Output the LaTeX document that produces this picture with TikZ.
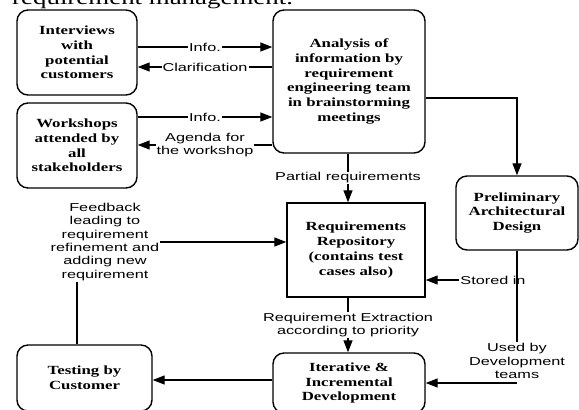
\documentclass[tikz,border=0pt]{standalone}
\usepackage{fontspec}
\usetikzlibrary{arrows.meta}
\newfontfamily\boxfont{Liberation Serif}[FakeStretch=1.35]
\newfontfamily\lblfont{Liberation Sans}[FakeStretch=1.42]
\begin{document}
\begin{tikzpicture}[x=1bp,y=-1bp,
  box/.style={draw,line width=1.4bp,rounded corners=11bp,align=center,inner sep=0pt,
    font=\boxfont\bfseries\fontsize{12.5}{14.8}\selectfont},
  sqbox/.style={box,rounded corners=0pt},
  lbl/.style={align=center,inner sep=1bp,fill=white,
    font=\lblfont\fontsize{11.5}{13.4}\selectfont},
  conn/.style={line width=1.3bp},
  arr/.style={conn,-{Triangle[length=12bp,width=9bp]}}]
\useasboundingbox (0,0) rectangle (579,409);
\clip (0,0) rectangle (579,409);
% caption fragment at the top
\node[anchor=base west,inner sep=0pt,font=\boxfont\fontsize{20}{24}\selectfont] (cap) at (12,4) {requirement management.};
% boxes
\node[box,minimum width=120bp,minimum height=85bp] (int) at (77,52.5) {Interviews\\with\\potential\\customers};
\node[box,minimum width=120bp,minimum height=85bp] (work) at (77,145.5) {Workshops\\attended by\\all\\stakeholders};
\node[box,minimum width=152bp,minimum height=143bp] (ana) at (349,81.5) {Analysis of\\information by\\requirement\\engineering team\\in brainstorming\\meetings};
\node[box,minimum width=122bp,minimum height=74bp] (pre) at (517,213) {Preliminary\\Architectural\\Design};
\node[sqbox,minimum width=138bp,minimum height=94bp] (rep) at (356,250) {Requirements\\Repository\\(contains test\\cases also)};
\node[box,minimum width=152bp,minimum height=60bp] (iter) at (349,383) {Iterative \&\\Incremental\\Development};
\node[box,minimum width=135bp,minimum height=66bp] (test) at (84.5,378) {Testing by\\Customer};
% helper coordinates
\coordinate (h1) at (0,47);
\coordinate (h2) at (0,67);
\coordinate (h3) at (0,117);
\coordinate (h4) at (0,145);
\coordinate (h5) at (0,98);
\coordinate (h6) at (0,380);
\coordinate (xc) at (348,0);
\coordinate (xf) at (77,0);
\coordinate (corner) at (517,383);
% connectors
\draw[arr] (int.east |- h1) -- node[lbl] {Info.} (ana.west |- h1);
\draw[arr] (ana.west |- h2) -- node[lbl] {Clarification} (int.east |- h2);
\draw[arr] (work.east |- h3) -- node[lbl] {Info.} (ana.west |- h3);
\draw[arr] (ana.west |- h4) -- node[lbl] {Agenda for\\the workshop} (work.east |- h4);
\draw[arr] (ana.east |- h5) -| (pre.north);
\draw[arr] (ana.south -| xc) -- node[lbl] {Partial requirements} (rep.north -| xc);
\draw[arr] (rep.south -| xc) -- node[lbl] {Requirement Extraction\\according to priority} (iter.north -| xc);
\node[lbl,fill=none] (st) at (493,280) {Stored in};
\draw[arr] (st.west) -- (rep.east |- st.west);
\node[lbl] (used) at (517,361) {Used by\\Development\\teams};
\draw[conn] (pre.south) -- (used.north);
\draw[arr] (corner) -- (iter.east |- corner);
\draw[arr] (iter.west |- h6) -- (test.east |- h6);
\node[lbl] (fb) at (105,242) {Feedback\\leading to\\requirement\\refinement and\\adding new\\requirement};
\draw[conn] (test.north -| xf) -- (fb.south -| xf);
\draw[arr] (fb.east) -- (fb.east -| rep.west);
\end{tikzpicture}
\end{document}
